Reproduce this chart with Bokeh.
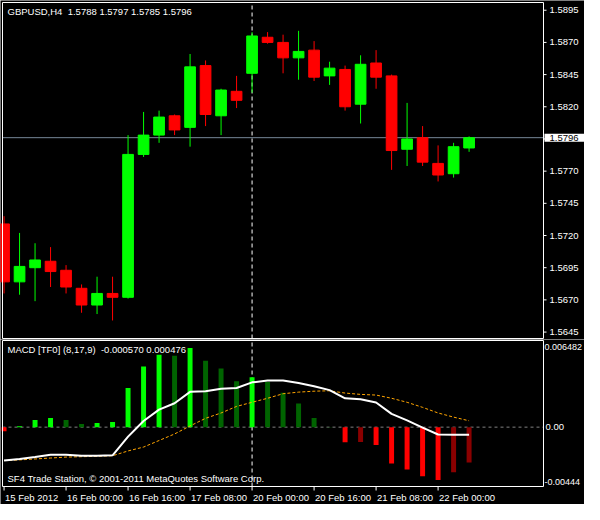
from bokeh.plotting import figure
from bokeh.layouts import column
from bokeh.models import Range1d, Label, LabelSet, ColumnDataSource
from bokeh.core.properties import value
from bokeh.embed import file_html
from bokeh.resources import INLINE

# ---------------- data ----------------
SYMBOL = "GBPUSD"
PERIOD = "H4"
MACD_NAME = "MACD [TF0] (8,17,9)"
COPYRIGHT = "SF4 Trade Station, \u00a9 2001-2011 MetaQuotes Software Corp."

opens = [1.5729, 1.5684, 1.5695, 1.5700, 1.5693, 1.5679, 1.5666, 1.5675, 1.5672, 1.5783,
         1.5798, 1.5813, 1.5804, 1.5852, 1.5813, 1.5832, 1.5846, 1.5874, 1.5870, 1.5858,
         1.5864, 1.5844, 1.5849, 1.5822, 1.5854, 1.5844, 1.5787, 1.5796, 1.5776, 1.5768,
         1.5788]
highs = [1.5735, 1.5722, 1.5714, 1.5711, 1.5697, 1.5682, 1.5688, 1.5688, 1.5798, 1.5816,
         1.5817, 1.5814, 1.5861, 1.5856, 1.5834, 1.5844, 1.5878, 1.5878, 1.5876, 1.5879,
         1.5871, 1.5855, 1.5852, 1.5860, 1.5864, 1.5845, 1.5823, 1.5805, 1.5790, 1.5792,
         1.5797]
lows = [1.5675, 1.5674, 1.5669, 1.5680, 1.5675, 1.5660, 1.5659, 1.5654, 1.5671, 1.5781,
        1.5792, 1.5798, 1.5789, 1.5805, 1.5798, 1.5819, 1.5831, 1.5869, 1.5846, 1.5841,
        1.5840, 1.5837, 1.5817, 1.5807, 1.5834, 1.5771, 1.5774, 1.5774, 1.5762, 1.5765,
        1.5785]
closes = [1.5684, 1.5696, 1.5701, 1.5692, 1.5680, 1.5666, 1.5675, 1.5672, 1.5783, 1.5798,
          1.5812, 1.5802, 1.5851, 1.5814, 1.5833, 1.5825, 1.5875, 1.5870, 1.5858, 1.5863,
          1.5843, 1.5850, 1.5820, 1.5853, 1.5843, 1.5786, 1.5795, 1.5777, 1.5767, 1.5789,
          1.5796]

macd_hist = [-0.00030, 0.00007, 0.00053, 0.00068, 0.00053, 0.00024, 0.00031, 0.00039,
             0.00293, 0.00454, 0.00541, 0.00534, 0.00592, 0.00497, 0.00439, 0.00344,
             0.00374, 0.00337, 0.00257, 0.00177, 0.00068, 0.00002, -0.00113, -0.00111,
             -0.00134, -0.00272, -0.00316, -0.00367, -0.00396, -0.00338, -0.00265]
macd_main = [-0.00250, -0.00238, -0.00224, -0.00207, -0.00207, -0.00214, -0.00214, -0.00211,
             -0.00071, 0.00046, 0.00131, 0.00179, 0.00264, 0.00269, 0.00288, 0.00293,
             0.00335, 0.00349, 0.00349, 0.00330, 0.00306, 0.00277, 0.00216, 0.00208,
             0.00184, 0.00099, 0.00051, -0.00003, -0.00055, -0.00057, -0.000570]
macd_signal = [-0.00250, -0.00245, -0.00238, -0.00231, -0.00224, -0.00221, -0.00218, -0.00214,
               -0.00178, -0.00149, -0.00100, -0.00051, 0.00009, 0.00066, 0.00106, 0.00155,
               0.00186, 0.00216, 0.00250, 0.00262, 0.00269, 0.00272, 0.00255, 0.00245,
               0.00240, 0.00216, 0.00186, 0.00148, 0.00106, 0.00075, 0.000476]

price_ticks = [1.5645, 1.5670, 1.5695, 1.5720, 1.5745, 1.5770, 1.5795, 1.5820, 1.5845,
               1.5870, 1.5895]
time_tick_bars = [0, 4, 8, 12, 16, 20, 24, 28]
time_tick_labels = ["15 Feb 2012", "16 Feb 00:00", "16 Feb 16:00", "17 Feb 08:00",
                    "20 Feb 00:00", "20 Feb 16:00", "21 Feb 08:00", "22 Feb 00:00"]
crosshair_bar = 16

# pane extents (data units)
PRICE_MIN, PRICE_MAX = 1.5640, 1.5901
MACD_MIN, MACD_MAX = -0.00444, 0.006482
X_START, X_BORDER = -0.1, 34.8

# ---------------- layout / styles ----------------
W = 584
PANE_L, PANE_W, AXIS_W = 2, 541, 41
MAIN_H, MAIN_TOP, MAIN_PANE_H = 339, 2, 336
MACD_H, MACD_TOP, MACD_PANE_H = 165, 1, 146

FONT = "Liberation Sans"
FS = "9.5px"
FS_SMALL = "9px"
BULL, BEAR = "#00FF00", "#FF0000"
HIST_UP_POS, HIST_DN_POS = "#00FF00", "#006400"
HIST_DN_NEG, HIST_UP_NEG = "#FF0000", "#8B0000"
FRAME_COLOR = "white"

n = len(opens)
idx = list(range(n))
candle_colors = [BULL if c >= o else BEAR for o, c in zip(opens, closes)]
body_top = [max(o, c) for o, c in zip(opens, closes)]
body_bot = [min(o, c) for o, c in zip(opens, closes)]

hist_colors = []
for i, v in enumerate(macd_hist):
    prev = macd_hist[i - 1] if i > 0 else None
    rising = prev is not None and v > prev
    if v >= 0:
        hist_colors.append(HIST_UP_POS if (prev is None or rising) else HIST_DN_POS)
    else:
        hist_colors.append(HIST_UP_NEG if rising else HIST_DN_NEG)

ux = (X_BORDER - X_START) / PANE_W
x_range = Range1d(X_START - PANE_L * ux, X_BORDER + AXIS_W * ux)

um = (PRICE_MAX - PRICE_MIN) / MAIN_PANE_H
main_y = Range1d(PRICE_MIN - (MAIN_H - MAIN_TOP - MAIN_PANE_H) * um, PRICE_MAX + MAIN_TOP * um)
uq = (MACD_MAX - MACD_MIN) / MACD_PANE_H
macd_y = Range1d(MACD_MIN - (MACD_H - MACD_TOP - MACD_PANE_H) * uq, MACD_MAX + MACD_TOP * uq)


def make_fig(h, yr):
    f = figure(width=W, height=h, x_range=x_range, y_range=yr,
               output_backend="svg", toolbar_location=None,
               x_axis_location=None, y_axis_location=None,
               background_fill_color="black", border_fill_color="black",
               outline_line_color=None,
               min_border_left=0, min_border_right=0, min_border_top=0, min_border_bottom=0)
    f.grid.visible = False
    return f


def text_kw(**kw):
    d = dict(text_color="white", text_font=FONT, text_font_size=FS, text_align="left")
    d.update(kw)
    return d


# ---------------- main price pane ----------------
main = make_fig(MAIN_H, main_y)

# bid line and crosshair
main.segment(x0=[X_START], x1=[X_BORDER], y0=[closes[-1]], y1=[closes[-1]],
             line_color="#778899", line_width=1)
main.segment(x0=[crosshair_bar], x1=[crosshair_bar], y0=[PRICE_MIN], y1=[PRICE_MAX],
             line_color="white", line_dash="4 3", line_width=1)

# candles
main.segment(x0=idx, y0=lows, x1=idx, y1=highs, line_color=candle_colors, line_width=1)
main.vbar(x=idx, width=0.69, top=body_top, bottom=body_bot,
          fill_color=candle_colors, line_color=candle_colors, line_width=1)

# pane border
main.quad(left=[X_START], right=[X_BORDER], bottom=[PRICE_MIN], top=[PRICE_MAX],
          fill_color=None, line_color=FRAME_COLOR, line_width=1)

# price axis (the label nearest to the current price is covered by the price box)
bid = closes[-1]
nearest = min(price_ticks, key=lambda t: abs(t - bid))
shown_ticks = [t for t in price_ticks if t != nearest]
main.segment(x0=[X_BORDER] * len(price_ticks), x1=[X_BORDER + 3 * ux] * len(price_ticks),
             y0=price_ticks, y1=price_ticks, line_color="white", line_width=1)
psrc = ColumnDataSource(dict(x=[X_BORDER] * len(shown_ticks), y=shown_ticks,
                             text=["%.4f" % t for t in shown_ticks]))
main.add_layout(LabelSet(x="x", y="y", text="text", source=psrc, x_offset=6,
                         text_baseline="middle", text_align="left", text_color="white",
                         text_font=value(FONT), text_font_size=value(FS)))

title_text = "%s,%s \u00a0%.4f %.4f %.4f %.4f" % (SYMBOL, PERIOD, opens[-1], highs[-1],
                                                   lows[-1], closes[-1])
main.add_layout(Label(x=X_START, y=PRICE_MAX, x_offset=5, y_offset=-3, text=title_text,
                      text_baseline="top", **text_kw()))
main.add_layout(Label(x=X_BORDER, y=bid, x_offset=1, text="%.4f" % bid,
                      text_baseline="middle", background_fill_color="white",
                      padding=dict(left=5, right=12, top=1, bottom=1), level="overlay",
                      **text_kw(text_color="black")))

# ---------------- MACD pane ----------------
macd = make_fig(MACD_H, macd_y)

macd.segment(x0=[X_START], x1=[X_BORDER], y0=[0], y1=[0],
             line_color="#808080", line_dash="3 3", line_width=1)
macd.segment(x0=[crosshair_bar], x1=[crosshair_bar], y0=[MACD_MIN], y1=[MACD_MAX],
             line_color="white", line_dash="4 3", line_width=1)

macd.vbar(x=idx, width=0.32, top=macd_hist, bottom=0,
          fill_color=hist_colors, line_color=None)
macd.line(idx, macd_signal, line_color="#FFA500", line_dash="3 2", line_width=1)
macd.line(idx, macd_main, line_color="white", line_width=2)

macd.quad(left=[X_START], right=[X_BORDER], bottom=[MACD_MIN], top=[MACD_MAX],
          fill_color=None, line_color=FRAME_COLOR, line_width=1)

macd_text = "%s \u00a0%.6f %.6f" % (MACD_NAME, macd_main[-1], macd_signal[-1])
macd.add_layout(Label(x=X_START, y=MACD_MAX, x_offset=5, y_offset=-3, text=macd_text,
                      text_baseline="top", **text_kw()))
macd.add_layout(Label(x=X_START, y=MACD_MIN, x_offset=5, y_offset=3, text=COPYRIGHT,
                      text_baseline="bottom", **text_kw()))

# MACD value axis
macd.add_layout(Label(x=X_BORDER, y=MACD_MAX, x_offset=1, y_offset=-3, text="%.6f" % MACD_MAX,
                      text_baseline="top", **text_kw(text_font_size=FS_SMALL)))
macd.add_layout(Label(x=X_BORDER, y=0, x_offset=2, text="0.00",
                      text_baseline="middle", **text_kw()))
macd.add_layout(Label(x=X_BORDER, y=MACD_MIN, x_offset=1, y_offset=2, text=str(MACD_MIN),
                      text_baseline="bottom", **text_kw(text_font_size=FS_SMALL)))

# time axis
nt = len(time_tick_bars)
macd.segment(x0=time_tick_bars, x1=time_tick_bars, y0=[MACD_MIN] * nt,
             y1=[MACD_MIN - 4 * uq] * nt, line_color="white", line_width=1)
tsrc = ColumnDataSource(dict(x=time_tick_bars, y=[MACD_MIN] * nt, text=time_tick_labels))
macd.add_layout(LabelSet(x="x", y="y", text="text", source=tsrc, x_offset=1, y_offset=-5,
                         text_baseline="top", text_align="left", text_color="white",
                         text_font=value(FONT), text_font_size=value(FS)))

layout = column(main, macd, spacing=0)

open("out.html", "w").write(file_html(layout, INLINE))
